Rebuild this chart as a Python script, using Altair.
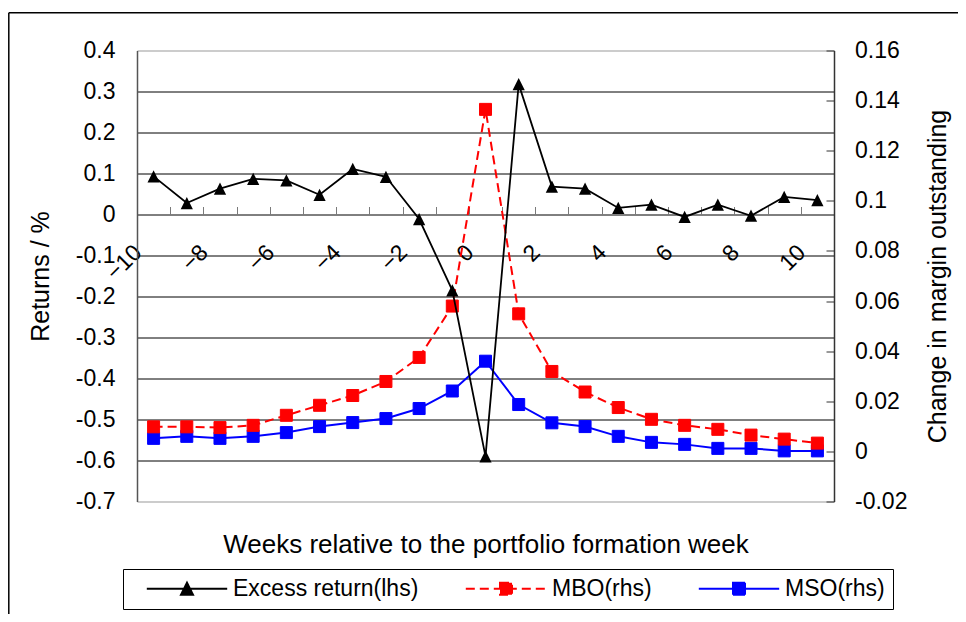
import altair as alt
import pandas as pd

# ---------------- data ----------------
weeks = list(range(-10, 11))
excess = [0.093, 0.028, 0.063, 0.087, 0.083, 0.048, 0.111, 0.092, -0.011, -0.185,
          -0.59, 0.318, 0.068, 0.063, 0.016, 0.024, -0.006, 0.024, -0.003, 0.043, 0.035]
mbo = [0.0098, 0.0098, 0.0095, 0.0104, 0.0144, 0.0184, 0.0223, 0.0279, 0.0375, 0.058,
       0.1365, 0.0549, 0.0319, 0.0237, 0.0175, 0.0128, 0.0104, 0.0088, 0.0065, 0.0049, 0.0033]
mso = [0.0052, 0.0060, 0.0052, 0.0060, 0.0075, 0.0099, 0.0115, 0.0131, 0.0171, 0.0241,
       0.0360, 0.0187, 0.0114, 0.0099, 0.0060, 0.0036, 0.0028, 0.0012, 0.0012, 0.0002, 0.0002]

series_names = ["Excess return(lhs)", "MBO(rhs)", "MSO(rhs)"]
series_colors = ["#000000", "#ff0000", "#0000ff"]

left_ticks = [-0.7, -0.6, -0.5, -0.4, -0.3, -0.2, -0.1, 0.0, 0.1, 0.2, 0.3, 0.4]
left_grid = [-0.6, -0.5, -0.4, -0.3, -0.2, -0.1, 0.0, 0.1, 0.2, 0.3]
right_ticks = [-0.02, 0.0, 0.02, 0.04, 0.06, 0.08, 0.1, 0.12, 0.14, 0.16]
x_labels = [-10, -8, -6, -4, -2, 0, 2, 4, 6, 8, 10]
x_minor = [w + 0.5 for w in range(-11, 11)]

x_title = "Weeks relative to the portfolio formation week"
left_title = "Returns / %"
right_title = "Change in margin outstanding"

# ---------------- layout constants ----------------
W, H = 697, 451
FONT = "Liberation Sans"
LEFT_DOMAIN = [-0.7, 0.4]
RIGHT_DOMAIN = [-0.02, 0.16]
zero_from_bottom = H * 0.7 / 1.1
zero_from_top = H * 0.4 / 1.1

TRI = "M0,-1L1,1L-1,1Z"
LEG_TRI = "M-6.7,0L6.7,0M0,-1L1,1L-1,1Z"
LEG_SQ = "M-6.7,0L6.7,0M-1,-1L1,-1L1,1L-1,1Z"

df_ex = pd.DataFrame({"week": weeks, "value": excess})
df_mbo = pd.DataFrame({"week": weeks, "value": mbo})
df_mso = pd.DataFrame({"week": weeks, "value": mso})
df_leg = pd.DataFrame({"series": series_names})

xscale = alt.Scale(domain=[-10.5, 10.5], nice=False, zero=False)
lscale = alt.Scale(domain=LEFT_DOMAIN, nice=False, zero=False)
rscale = alt.Scale(domain=RIGHT_DOMAIN, nice=False, zero=False)

lab_expr_l = "replace(format(datum.value, '.1~f'), '\u2212', '-')"
lab_expr_r = "replace(format(datum.value, '.2~f'), '\u2212', '-')"

# x axis with labels (placed on the zero line)
x_axis_labels = alt.Axis(
    orient="bottom", values=x_labels, offset=-zero_from_bottom, domain=False,
    ticks=False, tickSize=0, grid=False, labelAngle=-45, labelAlign="right",
    labelBaseline="middle", labelOffset=-16, labelPadding=34, labelFontSize=23,
    labelFont=FONT, labelColor="#000000",
    labelFlush=False, labelOverlap=False, labelBound=False,
    title=x_title, titleFont=FONT, titleFontSize=26, titleFontWeight="normal",
    titleColor="#000000", titleY=330.3, titleBaseline="middle",
)
# x axis ticks (upward, on the zero line)
x_axis_ticks = alt.Axis(
    orient="top", values=x_minor, offset=-zero_from_top, domain=False,
    ticks=True, tickSize=8, tickColor="#7a7a7a", tickWidth=1, labels=False,
    grid=False, title=None,
)

y_axis_left = alt.Axis(
    orient="left", values=left_ticks, grid=False, ticks=False, tickSize=0,
    labelPadding=22, labelFontSize=23, labelFont=FONT, labelColor="#000000",
    labelExpr=lab_expr_l, labelFlush=False,
    labelOverlap=False, domain=True, domainColor="#555555", domainWidth=1.5,
    title=left_title, titleFont=FONT, titleFontSize=25, titleFontWeight="normal",
    titleColor="#000000", titleX=-97, titleY=H / 2, titleAngle=270,
    titleBaseline="middle", titleAlign="center",
)
y_axis_grid = alt.Axis(
    orient="left", values=left_grid, grid=True, gridColor="#000000", gridWidth=1,
    ticks=False, labels=False, domain=False, title=None,
)
y_axis_right = alt.Axis(
    orient="right", values=right_ticks, grid=False, ticks=False, tickSize=0,
    labelPadding=20.5, labelFontSize=23, labelFont=FONT, labelColor="#000000",
    labelExpr=lab_expr_r, labelFlush=False,
    labelOverlap=False, domain=True, domainColor="#333333", domainWidth=1.5,
    title=right_title, titleFont=FONT, titleFontSize=25, titleFontWeight="normal",
    titleColor="#000000", titleX=103.5, titleY=H / 2, titleAngle=270,
    titleBaseline="middle", titleAlign="center",
)
y_axis_right_ticks = alt.Axis(
    orient="left", offset=-W, values=right_ticks, grid=False, ticks=True, tickSize=8,
    tickColor="#333333", labels=False, domain=False, title=None,
)

# ---------------- layers ----------------
mso_line = alt.Chart(df_mso).mark_line(color="#0000ff", strokeWidth=2).encode(
    x=alt.X("week:Q", scale=xscale, axis=None),
    y=alt.Y("value:Q", scale=rscale, axis=None),
)
mso_pts = alt.Chart(df_mso).mark_square(color="#0000ff", size=144, opacity=1,
                                         filled=True, strokeWidth=1, stroke="#0000ff").encode(
    x=alt.X("week:Q", scale=xscale, axis=None),
    y=alt.Y("value:Q", scale=rscale, axis=y_axis_right_ticks),
)
mbo_line = alt.Chart(df_mbo).mark_line(color="#ff0000", strokeWidth=2, strokeDash=[9, 5]).encode(
    x=alt.X("week:Q", scale=xscale, axis=x_axis_ticks),
    y=alt.Y("value:Q", scale=rscale, axis=y_axis_right),
)
mbo_pts = alt.Chart(df_mbo).mark_square(color="#ff0000", size=144, opacity=1,
                                         filled=True, strokeWidth=1, stroke="#ff0000").encode(
    x=alt.X("week:Q", scale=xscale, axis=None),
    y=alt.Y("value:Q", scale=rscale, axis=None),
)
ex_line = alt.Chart(df_ex).mark_line(color="#000000", strokeWidth=1.8).encode(
    x=alt.X("week:Q", scale=xscale, axis=x_axis_labels),
    y=alt.Y("value:Q", scale=lscale, axis=y_axis_left),
)
ex_pts = alt.Chart(df_ex).mark_point(shape=TRI, size=150, filled=True, opacity=1,
                                     color="#000000").encode(
    x=alt.X("week:Q", scale=xscale, axis=None),
    y=alt.Y("value:Q", scale=lscale, axis=y_axis_grid),
)

legend = alt.Legend(
    title=None, orient="none", legendX=-14, legendY=518.5, direction="horizontal",
    columns=3, symbolSize=144, symbolStrokeWidth=2, symbolOffset=44.5, labelOffset=34.5,
    labelFont=FONT, labelFontSize=23, labelColor="#000000", labelLimit=500,
    columnPadding=31, padding=8, strokeColor="#000000", fillColor="#ffffff",
    symbolOpacity=1,
)
leg_layer = alt.Chart(df_leg).transform_filter("false").mark_point(
    filled=True, opacity=1, size=144, strokeWidth=2
).encode(
    fill=alt.Fill("series:N", scale=alt.Scale(domain=series_names, range=series_colors), legend=legend),
    stroke=alt.Stroke("series:N", scale=alt.Scale(domain=series_names, range=series_colors), legend=legend),
    shape=alt.Shape("series:N", scale=alt.Scale(domain=series_names, range=[LEG_TRI, LEG_SQ, LEG_SQ]), legend=legend),
    strokeDash=alt.StrokeDash("series:N", scale=alt.Scale(domain=series_names, range=[[1, 0], [9, 5], [1, 0]]), legend=legend),
)

frame_df = pd.DataFrame({"k": [1]})
frame_v = alt.Chart(frame_df).mark_rule(color="#000000", strokeWidth=1.5).encode(
    x=alt.value(-128.2), y=alt.value(-37.8), y2=alt.value(H + 120),
)
frame_h = alt.Chart(frame_df).mark_rule(color="#000000", strokeWidth=1.5).encode(
    x=alt.value(-128.2), x2=alt.value(W + 130), y=alt.value(-37.8),
)

chart = alt.layer(
    mso_line, mso_pts, mbo_line, mbo_pts, ex_line, ex_pts, leg_layer, frame_v, frame_h
).resolve_scale(y="independent").resolve_axis(x="independent", y="independent").properties(
    width=W, height=H,
    autosize=alt.AutoSizeParams(type="none"),
    padding={"left": 129, "top": 42.5, "right": 124, "bottom": 112},
).configure(background="#ffffff").configure_view(
    stroke="#999999", strokeWidth=1
).configure_axis(
    labelFont=FONT, titleFont=FONT, labelColor="#000000", titleColor="#000000",
    titleFontWeight="normal",
)

chart.save("out.html", embed_options={"renderer": "svg", "actions": False})
